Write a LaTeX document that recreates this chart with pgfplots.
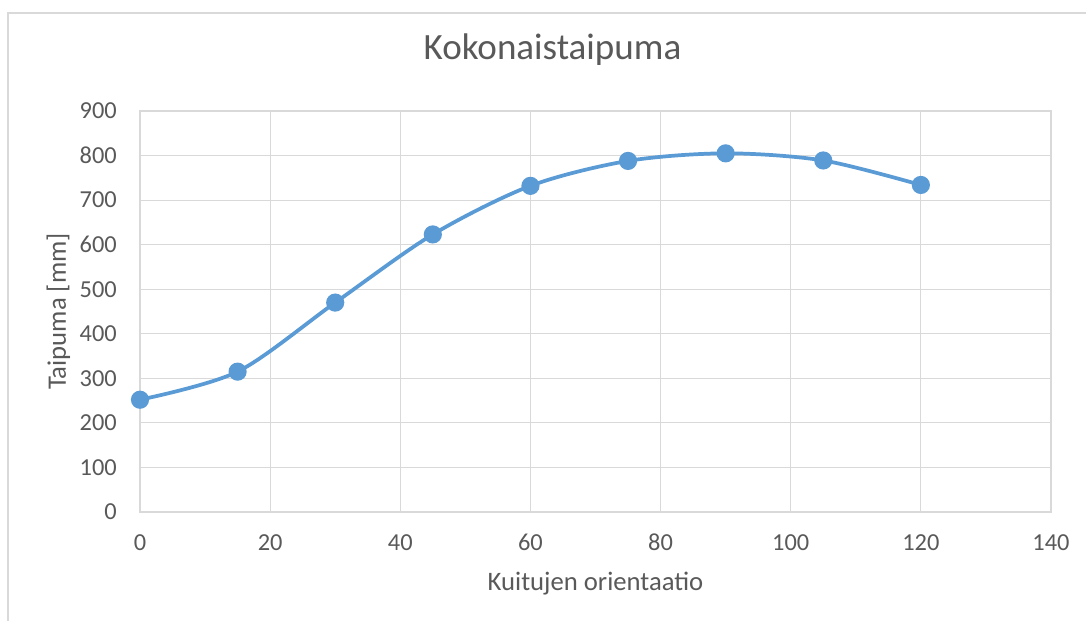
\documentclass[border=0pt]{standalone}
\usepackage{pgfplots}
\pgfplotsset{compat=1.18}
\usepackage{fontspec}
\setmainfont{Carlito}
\definecolor{gridc}{HTML}{D9D9D9}
\definecolor{txt}{HTML}{595959}
\definecolor{ser}{HTML}{5B9BD5}
\begin{document}
\begin{tikzpicture}
\useasboundingbox (0,0) rectangle (814.5pt,465.75pt);
\draw[gridc, line width=0.8pt] (6pt,0) -- (6pt,456pt) -- (814.5pt,456pt);
\begin{axis}[
  at={(105pt,81.75pt)}, anchor=south west,
  scale only axis, width=683.25pt, height=300.75pt,
  xmin=0, xmax=140, ymin=0, ymax=900,
  xtick={0,20,...,140}, ytick={0,100,...,900},
  xmajorgrids, ymajorgrids,
  major grid style={draw=gridc, line width=0.9pt},
  axis line style={draw=gridc, line width=0.9pt},
  major tick length=0pt,
  clip=false,
  /pgf/number format/assume math mode=true,
  ticklabel style={font=\fontsize{18.3}{21}\selectfont, text=txt, inner sep=0pt},
  xticklabel style={anchor=base, yshift=-29pt},
  yticklabel style={anchor=east, xshift=-17.25pt},
  title={Kokonaistaipuma},
  title style={at={(rel axis cs:0.4528,1)}, anchor=base, yshift=32.8pt, font=\fontsize{27.8}{32}\selectfont, text=txt, inner sep=0pt},
  xlabel={Kuitujen orientaatio},
  xlabel style={at={(rel axis cs:0.5,0)}, anchor=base, yshift=-59pt, font=\fontsize{20}{24}\selectfont, text=txt, inner sep=0pt},
  ylabel={Taipuma [mm]},
  ylabel style={at={(rel axis cs:0,0.5)}, anchor=base, yshift=55.5pt, font=\fontsize{20}{24}\selectfont, text=txt, inner sep=0pt},
]
\addplot[ser, line width=2.8pt, smooth, tension=0.5, mark=*, mark size=5.4pt, mark options={draw=none, fill=ser}] coordinates {
(0,252) (15,315) (30,470) (45,623) (60,732) (75,788) (90,805) (105,789) (120,734)
};
\end{axis}
\end{tikzpicture}
\end{document}
